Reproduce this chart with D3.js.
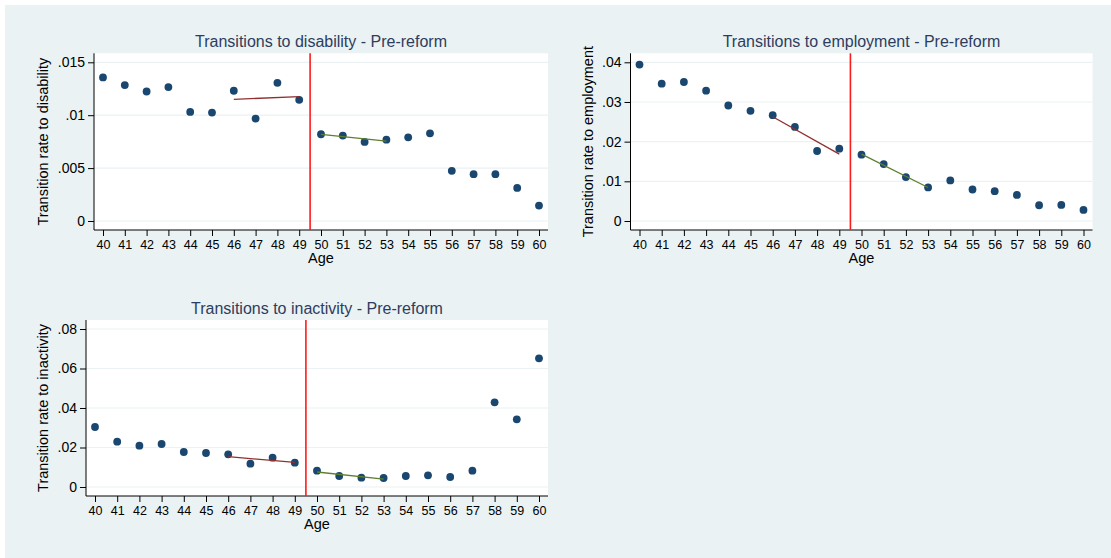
<!DOCTYPE html>
<html>
<head>
<meta charset="utf-8">
<script src="https://cdn.jsdelivr.net/npm/d3@7"></script>
<style>
  html, body { margin: 0; padding: 0; background: #ffffff; }
  svg { display: block; font-family: Arial, "Liberation Sans", sans-serif; }
</style>
</head>
<body>
<svg id="chart" width="1111" height="558"></svg>
<script>
// Ages on the horizontal axis
const ages = [40, 41, 42, 43, 44, 45, 46, 47, 48, 49, 50, 51, 52, 53, 54, 55, 56, 57, 58, 59, 60];

// Transition rates by age
const disability = [0.01357, 0.01285, 0.01224, 0.01266, 0.01031, 0.01025, 0.01231, 0.00968, 0.01306, 0.01145,
                    0.00820, 0.00807, 0.00747, 0.00769, 0.00791, 0.00829, 0.00474, 0.00443, 0.00443, 0.00313, 0.00146];
const employment = [0.03942, 0.03460, 0.03504, 0.03284, 0.02911, 0.02777, 0.02668, 0.02372, 0.01764, 0.01823,
                    0.01671, 0.01435, 0.01106, 0.00845, 0.01022, 0.00794, 0.00751, 0.00658, 0.00397, 0.00405, 0.00278];
const inactivity = [0.03038, 0.02295, 0.02093, 0.02177, 0.01772, 0.01722, 0.01654, 0.01180, 0.01485, 0.01232,
                    0.00827, 0.00557, 0.00473, 0.00456, 0.00557, 0.00591, 0.00506, 0.00827, 0.04287, 0.03426, 0.06515];

// Linear fits on either side of the reform age (endpoints at the window edges)
const fitAgesPre = [46, 49];
const fitAgesPost = [50, 53];
const disabilityFitPre = [0.01150, 0.01175];
const disabilityFitPost = [0.00818, 0.00755];
const employmentFitPre = [0.02628, 0.01685];
const employmentFitPost = [0.01686, 0.00845];
const inactivityFitPre = [0.01534, 0.01246];
const inactivityFitPost = [0.00759, 0.00402];

// Age threshold marked by the vertical line
const cutoffAge = 49.5;

// Y-axis ticks and their labels
const disabilityTicks = [0, 0.005, 0.01, 0.015];
const disabilityTickLabels = ["0", ".005", ".01", ".015"];
const employmentTicks = [0, 0.01, 0.02, 0.03, 0.04];
const employmentTickLabels = ["0", ".01", ".02", ".03", ".04"];
const inactivityTicks = [0, 0.02, 0.04, 0.06, 0.08];
const inactivityTickLabels = ["0", ".02", ".04", ".06", ".08"];

// Panel titles and axis titles
const panelTitles = ["Transitions to disability - Pre-reform", "Transitions to employment - Pre-reform", "Transitions to inactivity - Pre-reform"];
const yTitles = ["Transition rate to disability", "Transition rate to employment", "Transition rate to inactivity"];
const xTitle = "Age";

const panels = [
  { title: panelTitles[0], yTitle: yTitles[0], values: disability, fitPre: disabilityFitPre, fitPost: disabilityFitPost,
    ticks: disabilityTicks, tickLabels: disabilityTickLabels,
    box: { x0: 94, x1: 548, y0: 53.3, y1: 230 }, yTitleX: 43 },
  { title: panelTitles[1], yTitle: yTitles[1], values: employment, fitPre: employmentFitPre, fitPost: employmentFitPost,
    ticks: employmentTicks, tickLabels: employmentTickLabels,
    box: { x0: 630.5, x1: 1092.5, y0: 53.3, y1: 230 }, yTitleX: 588 },
  { title: panelTitles[2], yTitle: yTitles[2], values: inactivity, fitPre: inactivityFitPre, fitPost: inactivityFitPost,
    ticks: inactivityTicks, tickLabels: inactivityTickLabels,
    box: { x0: 86, x1: 548, y0: 320, y1: 496 }, yTitleX: 43 }
];

const svg = d3.select("#chart");

// Graph region background
svg.append("rect").attr("x", 5).attr("y", 5).attr("width", 1106).attr("height", 553).attr("fill", "#eaf2f3");

const PAD = 9;

panels.forEach(p => {
  const b = p.box;
  const x = d3.scaleLinear().domain([40, 60]).range([b.x0 + PAD, b.x1 - PAD]);
  const yMax = p.ticks[p.ticks.length - 1];
  const y = d3.scaleLinear().domain([0, yMax]).range([b.y1 - PAD, b.y0 + PAD]);

  const g = svg.append("g");

  // Plot region
  g.append("rect").attr("x", b.x0).attr("y", b.y0).attr("width", b.x1 - b.x0).attr("height", b.y1 - b.y0).attr("fill", "#ffffff");

  // Horizontal grid lines
  g.selectAll(".grid").data(p.ticks).enter().append("line")
    .attr("x1", b.x0).attr("x2", b.x1)
    .attr("y1", d => y(d)).attr("y2", d => y(d))
    .attr("stroke", "#eaf2f3").attr("stroke-width", 1.2);

  // Y axis
  const yAxis = d3.axisLeft(y).tickValues(p.ticks).tickSize(6).tickPadding(3)
    .tickFormat((d, i) => p.tickLabels[i]);
  const ya = g.append("g").attr("transform", `translate(${b.x0},0)`).call(yAxis);
  ya.select(".domain").attr("d", `M0,${b.y0}V${b.y1}`).attr("stroke", "#000").attr("stroke-width", 1);
  ya.selectAll(".tick line").attr("stroke", "#000");
  ya.selectAll(".tick text").attr("font-size", 14).attr("fill", "#000")
    .attr("font-family", "Arial, 'Liberation Sans', sans-serif");

  // X axis
  const xAxis = d3.axisBottom(x).tickValues(ages).tickSize(6).tickPadding(4).tickFormat(d3.format("d"));
  const xa = g.append("g").attr("transform", `translate(0,${b.y1})`).call(xAxis);
  xa.select(".domain").attr("d", `M${b.x0},0H${b.x1}`).attr("stroke", "#000").attr("stroke-width", 1);
  xa.selectAll(".tick line").attr("stroke", "#000");
  xa.selectAll(".tick text").attr("font-size", 12.5).attr("fill", "#000")
    .attr("font-family", "Arial, 'Liberation Sans', sans-serif");

  // Markers
  g.selectAll(".pt").data(ages.map((a, i) => [a, p.values[i]])).enter().append("circle")
    .attr("cx", d => x(d[0])).attr("cy", d => y(d[1])).attr("r", 3.9).attr("fill", "#1a476f");

  // Fit lines
  const line = d3.line().x(d => x(d[0])).y(d => y(d[1]));
  g.append("path").datum(fitAgesPre.map((a, i) => [a, p.fitPre[i]]))
    .attr("d", line).attr("fill", "none").attr("stroke", "#903030").attr("stroke-width", 1.3);
  g.append("path").datum(fitAgesPost.map((a, i) => [a, p.fitPost[i]]))
    .attr("d", line).attr("fill", "none").attr("stroke", "#5e7f2e").attr("stroke-width", 1.3);

  // Reform threshold
  g.append("line").attr("x1", x(cutoffAge)).attr("x2", x(cutoffAge)).attr("y1", b.y0).attr("y2", b.y1)
    .attr("stroke", "#ff1a1a").attr("stroke-width", 1.6);

  // Titles
  g.append("text").attr("x", (b.x0 + b.x1) / 2).attr("y", b.y0 - 6).attr("text-anchor", "middle")
    .attr("font-size", 16).attr("fill", "#2e3d5e").text(p.title);
  g.append("text").attr("x", (b.x0 + b.x1) / 2).attr("y", b.y1 + 33).attr("text-anchor", "middle")
    .attr("font-size", 14.5).attr("fill", "#000").text(xTitle);
  g.append("text").attr("transform", `translate(${p.yTitleX},${(b.y0 + b.y1) / 2}) rotate(-90)`)
    .attr("text-anchor", "middle").attr("dy", "0.35em")
    .attr("font-size", 14.5).attr("fill", "#000").text(p.yTitle);
});
</script>
</body>
</html>
